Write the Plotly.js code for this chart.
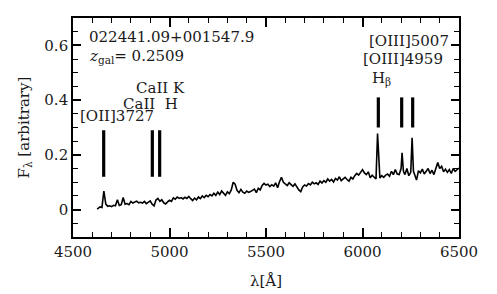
<!DOCTYPE html>
<html><head><meta charset="utf-8">
<script src="https://cdn.plot.ly/plotly-3.0.1.min.js"></script>
<style>body{margin:0} .modebar-container,.modebar{display:none !important}</style>
</head><body><div id="chart"></div>
<script>
// Spectrum (wavelength in Angstrom, flux arbitrary)
const wavelength = [4625,4630,4640,4650,4660,4670,4680,4690,4700,4710,4720,4730,4740,4750,4760,4770,4780,4790,4800,4810,4820,4830,4840,4850,4860,4870,4880,4890,4900,4910,4920,4930,4940,4950,4960,4970,4980,4990,5000,5010,5020,5030,5040,5050,5060,5070,5080,5090,5100,5110,5120,5130,5140,5150,5160,5170,5180,5190,5200,5210,5220,5230,5240,5250,5260,5270,5280,5290,5300,5310,5320,5330,5340,5350,5360,5370,5380,5390,5400,5410,5420,5430,5440,5450,5460,5470,5480,5490,5500,5510,5520,5530,5540,5550,5560,5570,5580,5590,5600,5610,5620,5630,5640,5650,5660,5670,5680,5690,5700,5710,5720,5730,5740,5750,5760,5770,5780,5790,5800,5810,5820,5830,5840,5850,5860,5870,5880,5890,5900,5910,5920,5930,5940,5950,5960,5970,5980,5990,6000,6010,6020,6030,6040,6050,6060,6070,6078,6086,6090,6100,6110,6120,6130,6140,6150,6160,6170,6180,6190,6200,6205,6212,6220,6230,6240,6250,6257,6264,6270,6280,6290,6300,6310,6320,6330,6340,6350,6360,6370,6380,6390,6400,6410,6420,6430,6440,6450,6460,6470,6480,6490,6500];
const flux = [0.002,0.006,0.010,0.008,0.068,0.020,0.012,0.014,0.011,0.016,0.014,0.036,0.015,0.018,0.044,0.020,0.022,0.018,0.030,0.024,0.028,0.031,0.025,0.027,0.024,0.030,0.022,0.026,0.032,0.020,0.014,0.035,0.041,0.030,0.036,0.025,0.021,0.028,0.034,0.030,0.043,0.038,0.046,0.041,0.044,0.039,0.045,0.041,0.048,0.040,0.033,0.042,0.036,0.046,0.040,0.050,0.044,0.052,0.047,0.055,0.050,0.060,0.052,0.064,0.055,0.068,0.058,0.052,0.065,0.058,0.072,0.100,0.093,0.070,0.062,0.074,0.064,0.060,0.068,0.063,0.066,0.071,0.075,0.062,0.078,0.072,0.088,0.096,0.090,0.093,0.084,0.091,0.086,0.098,0.080,0.102,0.118,0.100,0.094,0.088,0.098,0.092,0.085,0.094,0.080,0.072,0.066,0.083,0.090,0.086,0.095,0.090,0.100,0.094,0.098,0.092,0.104,0.097,0.106,0.100,0.112,0.104,0.110,0.101,0.114,0.108,0.120,0.106,0.112,0.118,0.110,0.104,0.118,0.112,0.124,0.132,0.126,0.138,0.146,0.134,0.128,0.138,0.116,0.126,0.120,0.112,0.278,0.120,0.116,0.124,0.118,0.126,0.130,0.122,0.140,0.128,0.146,0.130,0.128,0.150,0.208,0.140,0.128,0.150,0.124,0.136,0.262,0.140,0.128,0.108,0.142,0.134,0.148,0.130,0.140,0.150,0.132,0.144,0.128,0.152,0.172,0.150,0.158,0.138,0.148,0.136,0.146,0.132,0.150,0.140,0.148,0.152];

// Line identification markers
const markerWave = [4659,4911,4949,6082,6203,6260];
const markerBottom = [0.12,0.12,0.12,0.30,0.30,0.30];
const markerTop = [0.29,0.29,0.29,0.41,0.41,0.41];

// Labels (positions in data units)
const labelText = ["022441.09+001547.9","<i>z</i><sub>gal</sub>= 0.2509","CaII K","CaII  H","[OII]3727","[OIII]5007","[OIII]4959","H<sub>β</sub>"];
const labelX = [4575,4575,4951,4902,4730,6241,6210,6096];
const labelY = [0.630,0.560,0.445,0.386,0.343,0.615,0.549,0.479];
const labelAnchor = ["left","left","center","center","center","center","center","center"];

// Axis ranges and titles
const xRange = [4500, 6500];
const yRange = [-0.1, 0.7];
const xTitle = "λ[Å]";
const yTitle = "F<sub>λ</sub> [arbitrary]";

const FONT = "DejaVu Serif";
const TXT = "#1a1a1a";
const textFont = {family: FONT, size: 15, color: TXT};

const traces = [{
  x: wavelength, y: flux, type: "scatter", mode: "lines",
  line: {color: "#000", width: 1.6}
}];
markerWave.forEach((w, i) => {
  traces.push({x: [w, w], y: [markerBottom[i], markerTop[i]], type: "scatter", mode: "lines",
    line: {color: "#000", width: 3.2}});
});

// annotations placed in paper units converted from the data ranges
const px = v => (v - xRange[0]) / (xRange[1] - xRange[0]);
const py = v => (v - yRange[0]) / (yRange[1] - yRange[0]);
const annotations = labelText.map((t, i) => ({
  text: t, x: px(labelX[i]), y: py(labelY[i]), xref: "paper", yref: "paper",
  xanchor: labelAnchor[i], yanchor: "middle", showarrow: false, font: textFont
}));
annotations.push({text: xTitle, xref: "paper", yref: "paper", x: 0.5, y: 0,
  xanchor: "center", yanchor: "top", yshift: -33, showarrow: false, font: textFont});
annotations.push({text: yTitle, xref: "paper", yref: "paper", x: 0, y: 0.5,
  xanchor: "center", yanchor: "middle", xshift: -49, textangle: -90, showarrow: false, font: textFont});

const tickAxis = (range, dtick, minorDtick, len) => ({
  range: range, dtick: dtick,
  ticks: "inside", ticklen: len, tickwidth: 1.5, tickcolor: "#000",
  showline: true, mirror: "ticks", linecolor: "#000", linewidth: 1.6,
  showgrid: false, zeroline: false,
  minor: {ticks: "inside", dtick: minorDtick, ticklen: 5, tickwidth: 1.2, tickcolor: "#000", showgrid: false}
});

const layout = {
  width: 497, height: 294,
  margin: {l: 73, r: 38, t: 18, b: 57},
  showlegend: false,
  xaxis: Object.assign(tickAxis(xRange, 500, 100, 9), {tickfont: textFont}),
  yaxis: Object.assign(tickAxis(yRange, 0.2, 0.05, 8), {tickfont: textFont}),
  // overlay axes carrying only the tick marks
  xaxis2: Object.assign(tickAxis(xRange, 500, 100, 9), {overlaying: "x", anchor: "y2", side: "bottom", showticklabels: false, showline: false}),
  yaxis2: Object.assign(tickAxis(yRange, 0.2, 0.05, 8), {overlaying: "y", anchor: "x2", side: "left", showticklabels: false, showline: false}),
  annotations: annotations
};

traces.push({x: [xRange[0]], y: [yRange[0]], xaxis: "x2", yaxis: "y2", type: "scatter", mode: "markers",
  marker: {opacity: 0}, hoverinfo: "skip"});

Plotly.newPlot("chart", traces, layout);
</script>
</body></html>
